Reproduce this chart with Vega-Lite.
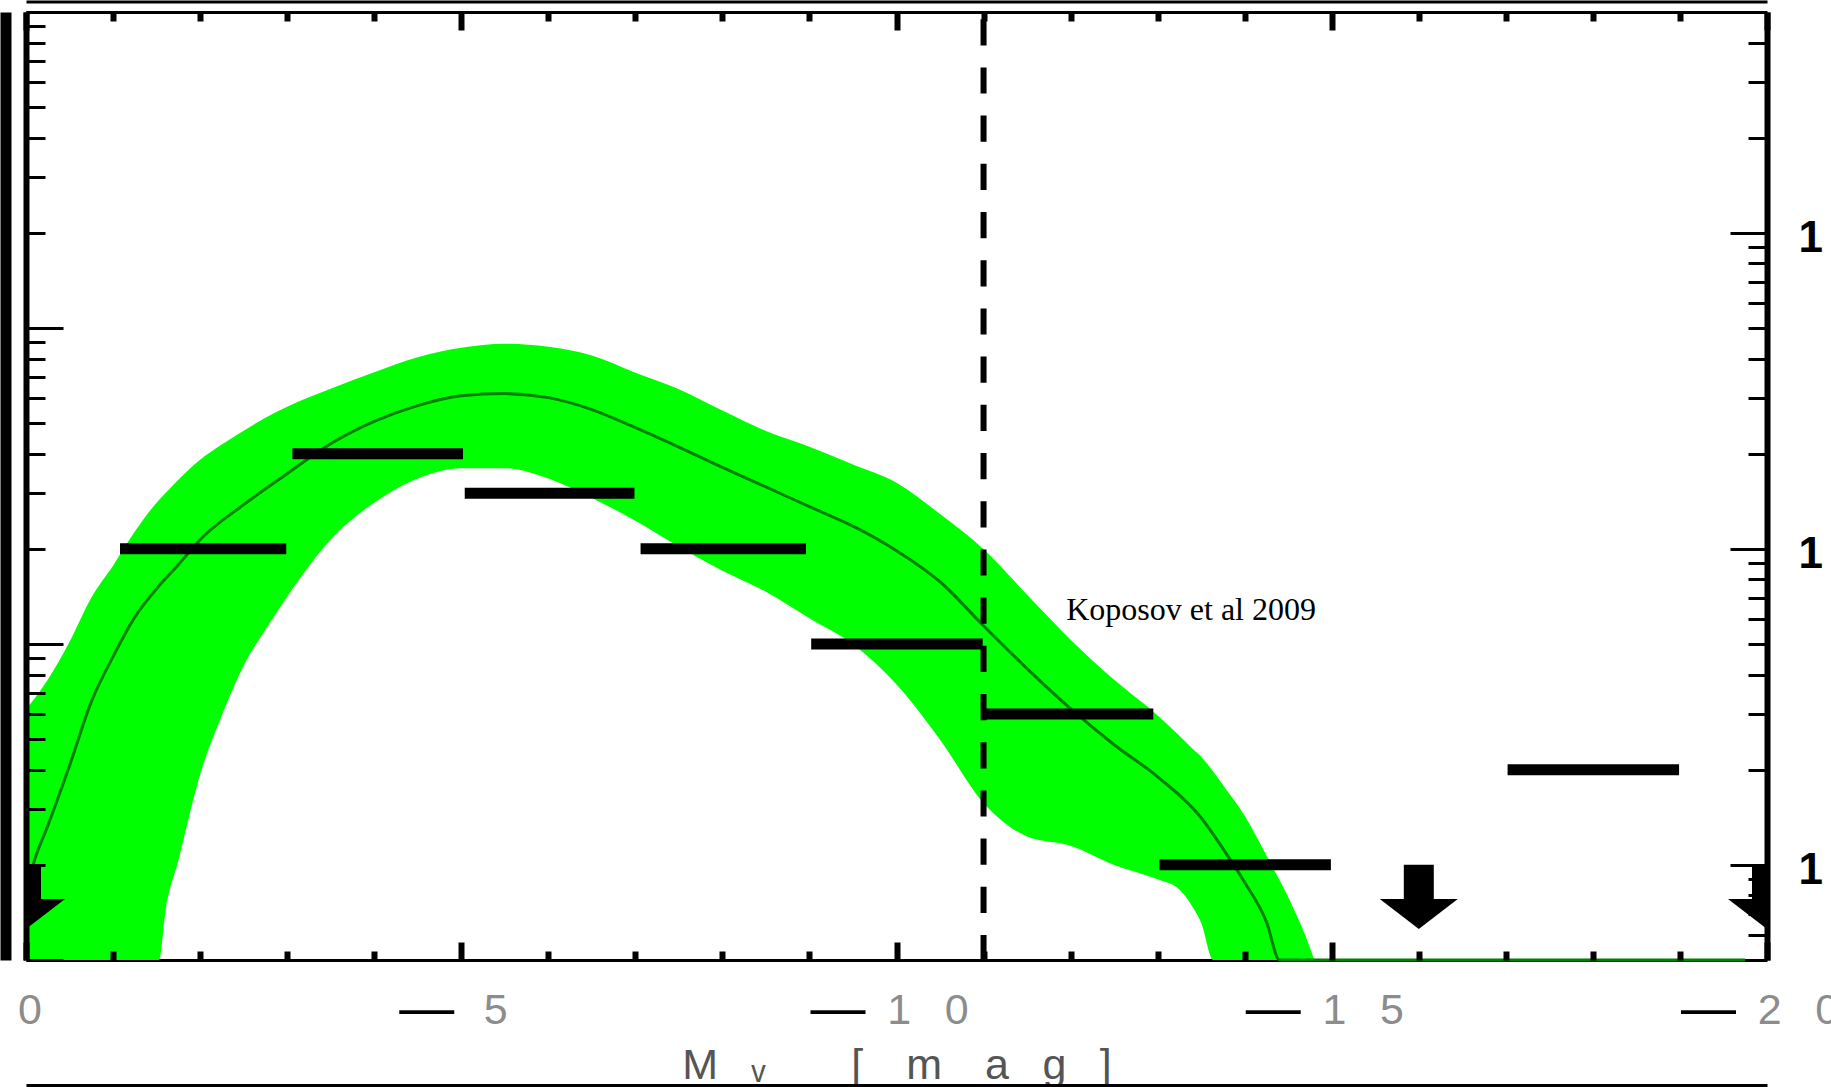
{
  "$schema": "https://vega.github.io/schema/vega-lite/v6.json",
  "width": 1741,
  "height": 948,
  "autosize": {"type": "none"},
  "padding": {"left": 26, "top": 12, "right": 64, "bottom": 127},
  "background": "white",
  "config": {"view": {"stroke": null}, "axis": {"grid": false}},
  "datasets": {
    "band": [
      {"M": 0, "lo": 0.1, "hi": 3.10},
      {"M": -0.25, "lo": 0.1, "hi": 3.85},
      {"M": -0.5, "lo": 0.1, "hi": 5.08},
      {"M": -0.75, "lo": 0.1, "hi": 7.01},
      {"M": -1, "lo": 0.1, "hi": 8.85},
      {"M": -1.25, "lo": 0.1, "hi": 11.34},
      {"M": -1.5, "lo": 0.1, "hi": 14.0},
      {"M": -1.53, "lo": 0.49, "hi": 14.3},
      {"M": -1.6, "lo": 0.706, "hi": 15.0},
      {"M": -1.75, "lo": 1.03, "hi": 16.55},
      {"M": -2, "lo": 1.93, "hi": 19.15},
      {"M": -2.25, "lo": 2.97, "hi": 21.4},
      {"M": -2.5, "lo": 4.27, "hi": 23.66},
      {"M": -2.75, "lo": 5.55, "hi": 26.0},
      {"M": -3, "lo": 7.06, "hi": 28.18},
      {"M": -3.5, "lo": 10.69, "hi": 32.13},
      {"M": -4, "lo": 14.0, "hi": 36.2},
      {"M": -4.5, "lo": 16.7, "hi": 40.4},
      {"M": -5, "lo": 18.0, "hi": 43.3},
      {"M": -5.5, "lo": 18.0, "hi": 44.6},
      {"M": -6, "lo": 16.7, "hi": 43.6},
      {"M": -6.5, "lo": 14.5, "hi": 40.9},
      {"M": -7, "lo": 12.28, "hi": 36.1},
      {"M": -7.5, "lo": 10.16, "hi": 32.0},
      {"M": -8, "lo": 8.53, "hi": 27.4},
      {"M": -8.5, "lo": 7.32, "hi": 23.6},
      {"M": -9, "lo": 6.03, "hi": 21.05},
      {"M": -9.5, "lo": 4.99, "hi": 18.5},
      {"M": -10, "lo": 3.72, "hi": 16.2},
      {"M": -10.5, "lo": 2.49, "hi": 12.9},
      {"M": -11, "lo": 1.57, "hi": 9.98},
      {"M": -11.5, "lo": 1.23, "hi": 7.16},
      {"M": -12, "lo": 1.15, "hi": 5.16},
      {"M": -12.5, "lo": 1.0, "hi": 3.85},
      {"M": -13, "lo": 0.9, "hi": 2.97},
      {"M": -13.25, "lo": 0.835, "hi": 2.56},
      {"M": -13.4, "lo": 0.737, "hi": 2.33},
      {"M": -13.5, "lo": 0.656, "hi": 2.2},
      {"M": -13.64, "lo": 0.49, "hi": 1.97},
      {"M": -13.75, "lo": 0.1, "hi": 1.79},
      {"M": -14, "lo": 0.1, "hi": 1.43},
      {"M": -14.25, "lo": 0.1, "hi": 1.07},
      {"M": -14.5, "lo": 0.1, "hi": 0.79},
      {"M": -14.75, "lo": 0.1, "hi": 0.547},
      {"M": -14.8, "lo": 0.1, "hi": 0.49}
    ],
    "median": [
      {"M": 0, "v": 0.83},
      {"M": -0.1, "v": 1.04},
      {"M": -0.25, "v": 1.33},
      {"M": -0.5, "v": 2.06},
      {"M": -0.75, "v": 3.28},
      {"M": -1, "v": 4.56},
      {"M": -1.25, "v": 6.08},
      {"M": -1.5, "v": 7.48},
      {"M": -1.75, "v": 8.91},
      {"M": -2, "v": 10.69},
      {"M": -2.5, "v": 13.8},
      {"M": -3, "v": 17.3},
      {"M": -3.5, "v": 21.5},
      {"M": -4, "v": 25.3},
      {"M": -4.5, "v": 28.4},
      {"M": -5, "v": 30.5},
      {"M": -5.5, "v": 31.0},
      {"M": -6, "v": 30.1},
      {"M": -6.5, "v": 27.6},
      {"M": -7, "v": 24.2},
      {"M": -7.5, "v": 21.0},
      {"M": -8, "v": 18.1},
      {"M": -8.5, "v": 15.7},
      {"M": -9, "v": 13.6},
      {"M": -9.5, "v": 11.8},
      {"M": -10, "v": 9.87},
      {"M": -10.5, "v": 7.87},
      {"M": -11, "v": 5.71},
      {"M": -11.5, "v": 4.18},
      {"M": -12, "v": 3.12},
      {"M": -12.5, "v": 2.40},
      {"M": -13, "v": 1.90},
      {"M": -13.5, "v": 1.41},
      {"M": -13.75, "v": 1.125},
      {"M": -14, "v": 0.88},
      {"M": -14.25, "v": 0.66},
      {"M": -14.4, "v": 0.5},
      {"M": -14.5, "v": 0.4},
      {"M": -19.75, "v": 0.4}
    ],
    "bins": [
      {"x1": -1.08, "x2": -2.99, "n": 10},
      {"x1": -3.06, "x2": -5.02, "n": 20},
      {"x1": -5.04, "x2": -6.99, "n": 15},
      {"x1": -7.06, "x2": -8.96, "n": 10},
      {"x1": -9.02, "x2": -10.99, "n": 5},
      {"x1": -10.98, "x2": -12.95, "n": 3},
      {"x1": -13.02, "x2": -14.99, "n": 1},
      {"x1": -17.02, "x2": -18.99, "n": 2}
    ],
    "limits": [
      {"M": 0, "top": 1, "bottom": 0.78},
      {"M": -16, "top": 1, "bottom": 0.78},
      {"M": -20, "top": 1, "bottom": 0.78}
    ],
    "cut": [{"M": -11}],
    "note": [{"M": -11.95, "v": 5.97, "label": "Koposov et al 2009"}]
  },
  "resolve": {"axis": {"x": "independent", "y": "independent"}},
  "layer": [
    {
      "data": {"name": "band"},
      "mark": {"type": "area", "color": "#00ff00", "opacity": 1, "interpolate": "monotone"},
      "encoding": {
        "x": {"field": "M", "type": "quantitative",
          "scale": {"domain": [0, -20], "nice": false, "zero": false},
          "axis": {"orient": "bottom", "domain": true, "domainColor": "black", "domainWidth": 3,
            "ticks": false, "tickSize": 0, "labels": true, "values": [0, -5, -10, -15, -20],
            "labelExpr": "datum.value == 0 ? '0' : datum.value == -5 ? '5' : datum.value == -10 ? '1\u2002 0' : datum.value == -15 ? '1\u2002 5' : '2\u2002 0'",
            "labelFont": "Liberation Sans", "labelFontSize": 43, "labelColor": "#8c8c8c",
            "labelBaseline": "alphabetic", "labelAlign": "center", "labelPadding": 63,
            "labelFlush": false, "labelOverlap": false,
            "labelOffset": {"condition": [{"test": "datum.value == 0", "value": 3.5}, {"test": "datum.value == -5", "value": 34}], "value": 31},
            "title": "M\u2002 \u1d65\u2002\u2002\u2002\u2002[\u2002\u2002m\u2002\u2002a\u2002 g\u2002 ]",
            "titleFont": "Liberation Sans", "titleFontSize": 43, "titleColor": "#555555", "titleFontWeight": "normal",
            "titleBaseline": "alphabetic", "titleY": 118, "zindex": 0}},
        "y": {"field": "lo", "type": "quantitative",
          "scale": {"type": "log", "domain": [0.5, 500], "nice": false, "clamp": true},
          "axis": {"orient": "left", "domain": true, "domainColor": "black", "domainWidth": 6,
            "labels": false, "ticks": true, "tickColor": "black", "tickWidth": 3,
            "values": [0.5, 1, 1.5, 2, 2.5, 3, 3.5, 4, 4.5, 5, 10, 15, 20, 25, 30, 35, 40, 45, 50, 100, 150, 200, 250, 300, 350, 400, 450, 500],
            "tickSize": {"condition": {"test": "datum.value == 0.5 || datum.value == 5 || datum.value == 50 || datum.value == 500", "value": -37}, "value": -19},
            "title": null, "zindex": 1}},
        "y2": {"field": "hi"}
      }
    },
    {
      "data": {"name": "median"},
      "mark": {"type": "line", "color": "#008000", "strokeWidth": 3, "interpolate": "monotone"},
      "encoding": {
        "x": {"field": "M", "type": "quantitative",
          "axis": {"orient": "bottom", "domain": false, "ticks": false, "tickSize": 0,
            "values": [-5, -10, -15, -20], "labelExpr": "'\u2014'",
            "labelFont": "Liberation Sans", "labelFontSize": 55, "labelColor": "black",
            "labelBaseline": "alphabetic", "labelAlign": "center", "labelPadding": 65,
            "labelFlush": false, "labelOverlap": false,
            "labelOffset": {"condition": {"test": "datum.value == -5", "value": -35}, "value": -59},
            "title": null, "zindex": 0}},
        "y": {"field": "v", "type": "quantitative",
          "axis": {"orient": "right", "domain": true, "domainColor": "black", "domainWidth": 6,
            "labels": false, "ticks": true, "tickColor": "black", "tickWidth": 3,
            "values": [0.6, 0.7, 0.8, 0.9, 1, 2, 3, 4, 5, 6, 7, 8, 9, 10, 20, 30, 40, 50, 60, 70, 80, 90, 100, 200, 300, 400],
            "tickSize": {"condition": {"test": "datum.value == 1 || datum.value == 10 || datum.value == 100", "value": -37}, "value": -19},
            "title": null, "zindex": 1}}
      }
    },
    {
      "data": {"name": "bins"},
      "mark": {"type": "rule", "color": "black", "strokeWidth": 11, "strokeCap": "butt"},
      "encoding": {
        "x": {"field": "x1", "type": "quantitative",
          "axis": {"orient": "bottom", "domain": false, "labels": false, "ticks": true,
            "values": [0, -1, -2, -3, -4, -5, -6, -7, -8, -9, -10, -11, -12, -13, -14, -15, -16, -17, -18, -19, -20],
            "tickColor": "black", "tickWidth": 6,
            "tickSize": {"condition": {"test": "datum.value % 5 == 0", "value": -18}, "value": -9},
            "title": null, "zindex": 1}},
        "x2": {"field": "x2"},
        "y": {"field": "n", "type": "quantitative",
          "axis": {"orient": "right", "domain": false, "ticks": false, "tickSize": 0,
            "values": [1, 10, 100],
            "labelExpr": "'1'",
            "labelFont": "Liberation Sans", "labelFontSize": 44, "labelFontWeight": "bold", "labelColor": "black",
            "labelAlign": "left", "labelBaseline": "alphabetic", "labelPadding": 31, "labelOffset": 19,
            "labelOverlap": false, "labelFlush": false, "title": null, "zindex": 1}}
      }
    },
    {
      "data": {"name": "limits"},
      "mark": {"type": "rule", "color": "black", "strokeWidth": 30, "strokeCap": "butt", "clip": true},
      "encoding": {
        "x": {"field": "M", "type": "quantitative",
          "axis": {"orient": "top", "domain": true, "domainColor": "black", "domainWidth": 3,
            "labels": false, "ticks": true,
            "values": [0, -1, -2, -3, -4, -5, -6, -7, -8, -9, -10, -11, -12, -13, -14, -15, -16, -17, -18, -19, -20],
            "tickColor": "black", "tickWidth": 6,
            "tickSize": {"condition": {"test": "datum.value % 5 == 0", "value": -18}, "value": -9},
            "title": null, "zindex": 1}},
        "y": {"field": "top", "type": "quantitative",
          "axis": {"orient": "left", "domain": true, "domainColor": "black", "domainWidth": 11, "offset": 20.5,
            "labels": false, "ticks": false, "title": null, "zindex": 1}},
        "y2": {"field": "bottom"}
      }
    },
    {
      "data": {"name": "limits"},
      "mark": {"type": "point", "shape": "M -1 0 L 1 0 L 0 0.77 Z", "size": 6084, "filled": true, "color": "black", "opacity": 1, "strokeWidth": 0, "clip": true},
      "encoding": {
        "x": {"field": "M", "type": "quantitative",
          "axis": {"orient": "top", "domain": true, "domainColor": "black", "domainWidth": 3, "offset": 10.5,
            "labels": false, "ticks": false, "title": null, "zindex": 1}},
        "y": {"field": "bottom", "type": "quantitative", "axis": null}
      }
    },
    {
      "data": {"name": "cut"},
      "mark": {"type": "rule", "color": "black", "strokeWidth": 6, "strokeDash": [26.2, 22], "strokeDashOffset": 41},
      "encoding": {
        "x": {"field": "M", "type": "quantitative",
          "axis": {"orient": "bottom", "domain": true, "domainColor": "black", "domainWidth": 4, "offset": 125.5,
            "labels": false, "ticks": false, "title": null, "zindex": 1}}
      }
    },
    {
      "data": {"name": "note"},
      "mark": {"type": "text", "align": "left", "baseline": "alphabetic", "font": "Liberation Serif", "fontSize": 32, "color": "black"},
      "encoding": {
        "x": {"field": "M", "type": "quantitative", "axis": null},
        "y": {"field": "v", "type": "quantitative", "axis": null},
        "text": {"field": "label"}
      }
    }
  ]
}
